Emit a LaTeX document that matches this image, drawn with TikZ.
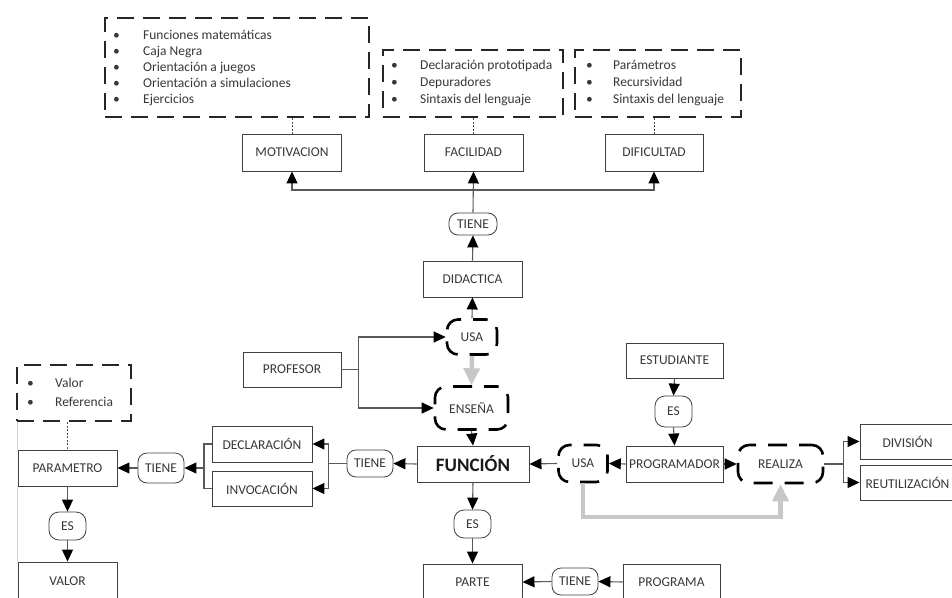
\documentclass[tikz,border=0pt]{standalone}
\usepackage{fontspec}
\setmainfont{Carlito}
\usetikzlibrary{arrows.meta}

\begin{document}
\begin{tikzpicture}[x=1pt,y=-1pt,
  every node/.style={font=\fontsize{13.5}{16}\selectfont, text=black!78},
  sz/.style 2 args={minimum width=#1pt, minimum height=#2pt},
  rect/.style={draw=black!75, line width=0.9pt, inner sep=0pt},
  pill/.style={draw=black!75, line width=0.8pt, rounded corners=9pt, inner sep=0pt},
  dround/.style={draw=black, line width=2.6pt, rounded corners=11pt, dash pattern=on 19pt off 12pt, dash phase=6pt, inner sep=0pt},
  dbox/.style={draw=black!85, line width=2.5pt, dash pattern=on 17pt off 9pt, inner sep=0pt},
  listtxt/.style={anchor=base west, inner sep=0pt},
  conn/.style={draw=black!65, line width=1.1pt},
  arr/.style={conn, -{Triangle[width=11pt,length=12pt,color=black]}},
  dotl/.style={draw=black!70, line width=0.7pt, dash pattern=on 2pt off 1.5pt},
  garr/.style={draw=black!22, line width=4.5pt, line join=miter, -{Triangle[width=16pt,length=17pt]}}
]
\useasboundingbox (0,0) rectangle (952,597);
\fill[white] (0,0) rectangle (952,597);
\clip (0,0) rectangle (952,597);

% ---- list boxes ----
\node[dbox, sz={264}{99}] (mbox) at (237,67.5) {};
\node[listtxt, font=\fontsize{13.5}{16.2}\selectfont] (mlist) at (113,39)
  {\begin{tabular}[t]{@{}p{30pt}@{}l@{}}
   \textbullet & Funciones matemáticas\\
   \textbullet & Caja Negra\\
   \textbullet & Orientación a juegos\\
   \textbullet & Orientación a simulaciones\\
   \textbullet & Ejercicios
   \end{tabular}};

\node[dbox, sz={180}{67}] (fbox) at (473,83.5) {};
\node[listtxt, font=\fontsize{13.5}{17}\selectfont] (flist) at (391,69)
  {\begin{tabular}[t]{@{}p{29pt}@{}l@{}}
   \textbullet & Declaración prototipada\\
   \textbullet & Depuradores\\
   \textbullet & Sintaxis del lenguaje
   \end{tabular}};

\node[dbox, sz={166}{67}] (dbx) at (658,83.5) {};
\node[listtxt, font=\fontsize{13.5}{17}\selectfont] (dlist) at (586,69)
  {\begin{tabular}[t]{@{}p{27pt}@{}l@{}}
   \textbullet & Parámetros\\
   \textbullet & Recursividad\\
   \textbullet & Sintaxis del lenguaje
   \end{tabular}};

\node[dbox, sz={114}{56}] (vbox) at (74,393) {};
\node[listtxt, font=\fontsize{13.5}{19}\selectfont] (vlist) at (27,387)
  {\begin{tabular}[t]{@{}p{28pt}@{}l@{}}
   \textbullet & Valor\\
   \textbullet & Referencia
   \end{tabular}};

% ---- concept boxes ----
\node[rect, sz={99}{37}] (motiv) at (292,152.5) {MOTIVACION};
\node[rect, sz={99}{37}] (facil) at (473.5,152.5) {FACILIDAD};
\node[rect, sz={98}{37}] (dific) at (654,152.5) {DIFICULTAD};
\node[pill, sz={48}{22}] (tiene1) at (473,224) {TIENE};
\node[rect, sz={99}{36}] (didac) at (472.5,279) {DIDACTICA};
\node[dround, sz={50}{35}] (usa1) at (472,337) {USA};
\node[dround, sz={73}{43}] (ensena) at (471.5,408) {ENSEÑA};
\node[rect, sz={98}{35}] (profesor) at (292,369.5) {PROFESOR};

\node[rect, sz={112}{36}, font=\fontsize{19}{22}\selectfont\bfseries, text=black!90] (funcion) at (473,464) {FUNCIÓN};
\node[pill, sz={46}{27}] (tieneF) at (370,463.5) {TIENE};
\node[dround, sz={49}{37}] (usa2) at (583,463.5) {USA};
\node[rect, sz={97}{36}] (programador) at (674.5,464) {PROGRAMADOR};
\node[rect, sz={97}{35}] (estudiante) at (674.5,360.5) {ESTUDIANTE};
\node[pill, sz={37}{31}, rounded corners=10pt] (es2) at (673.5,411.5) {ES};
\node[dround, sz={85}{38}] (realiza) at (780.5,464) {REALIZA};
\node[rect, sz={95}{35}] (division) at (907.5,441.5) {DIVISIÓN};
\node[rect, sz={95}{35}] (reutil) at (907.5,482.5) {REUTILIZACIÓN};

\node[pill, sz={37}{28}, rounded corners=10pt] (es1) at (472.5,524) {ES};
\node[rect, sz={99}{36}] (parte) at (472.5,582) {PARTE};
\node[pill, sz={46}{27}] (tieneP) at (575,581.5) {TIENE};
\node[rect, sz={97}{36}] (programa) at (671.5,582) {PROGRAMA};

\node[rect, sz={100}{36}] (decl) at (262,444) {DECLARACIÓN};
\node[rect, sz={100}{35}] (invoc) at (262,488.5) {INVOCACIÓN};
\node[pill, sz={46}{30}] (tieneL) at (161,468) {TIENE};
\node[rect, sz={99}{36}] (parametro) at (67.5,468) {PARAMETRO};
\node[pill, sz={37}{28}, rounded corners=10pt] (esL) at (67.5,526) {ES};
\node[rect, sz={99}{38}] (valor) at (67.5,581) {VALOR};

% ---- dotted links from the lists ----
\draw[dotl] (motiv.north |- mbox.south) -- (motiv.north);
\draw[dotl] (facil.north |- fbox.south) -- (facil.north);
\draw[dotl] (dific.north |- dbx.south) -- (dific.north);
\draw[dotl] (parametro.north |- vbox.south) -- (parametro.north);
\draw[black!18, line width=0.6pt] (parametro.west |- vbox.south) -- (parametro.north west);
\draw[black!18, line width=0.6pt] (parametro.south west) -- (valor.north west);

% ---- top part ----
\coordinate (bus) at (0,190);
\draw[arr] (tiene1.north) -- (facil.south);
\draw[arr] (tiene1.north |- bus) -| (motiv.south);
\draw[arr] (tiene1.north |- bus) -| (dific.south);
\draw[arr] (didac.north) -- (tiene1.south);
\draw[arr] (usa1.north) -- (didac.south);
\draw[arr] (profesor.east) -- ++(17,0) |- (usa1.west);
\draw[arr] (profesor.east) -- ++(17,0) |- (ensena.west);
\draw[arr] (ensena.south) -- (funcion.north);
\draw[garr] (usa1.south) -- (ensena.north);

% ---- left part ----
\draw[arr] (funcion.west) -- (tieneF.east);
\draw[arr] (tieneF.west) -- ++(-18,0) |- (decl.east);
\draw[arr] (tieneF.west) -- ++(-18,0) |- (invoc.east);
\coordinate (jl) at (204,468);
\draw[conn] (decl.west) -| (jl) |- (invoc.west);
\draw[arr] (jl) -- (tieneL.east);
\draw[arr] (tieneL.west) -- (parametro.east);
\draw[arr] (parametro.south) -- (esL.north);
\draw[arr] (esL.south) -- (valor.north);

% ---- right part ----
\draw[arr] (estudiante.south) -- (es2.north);
\draw[arr] (es2.south) -- (programador.north);
\draw[arr] (programador.west) -- (usa2.east);
\draw[arr] (usa2.west) -- (funcion.east);
\draw[arr] (programador.east) -- (realiza.west);
\draw[arr] (realiza.east) -- ++(19,0) |- (division.west);
\draw[arr] (realiza.east) -- ++(19,0) |- (reutil.west);
\coordinate (gy) at (0,517);
\draw[garr] (usa2.south) -- (usa2.south |- gy) -| (realiza.south);

% ---- bottom part ----
\draw[arr] (funcion.south) -- (es1.north);
\draw[arr] (es1.south) -- (parte.north);
\draw[arr] (programa.west) -- (tieneP.east);
\draw[arr] (tieneP.west) -- (parte.east);
\end{tikzpicture}
\end{document}
